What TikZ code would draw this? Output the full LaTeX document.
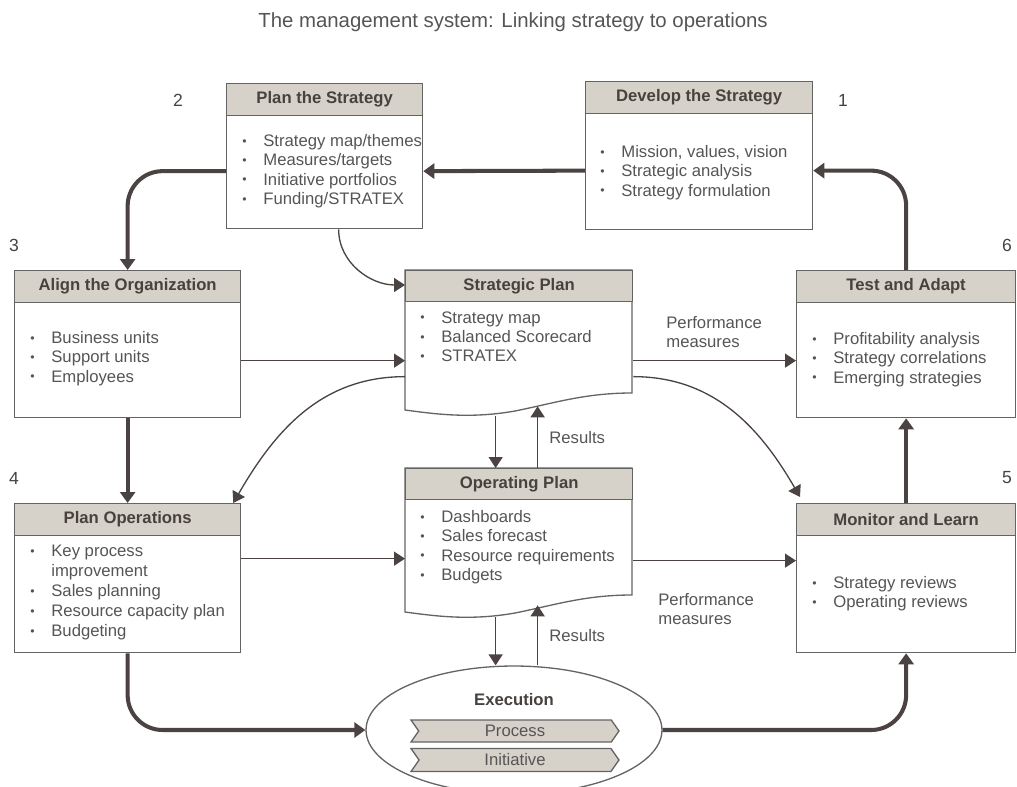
\documentclass[tikz,border=0pt]{standalone}
\usepackage{fontspec}
\setmainfont{Liberation Sans}
\usetikzlibrary{arrows.meta,shapes.geometric,shapes.symbols}
\definecolor{headfill}{RGB}{215,210,201}
\definecolor{framegray}{RGB}{100,100,100}
\definecolor{textgray}{RGB}{85,85,85}
\definecolor{headtext}{RGB}{72,66,62}
\definecolor{arrowdark}{RGB}{75,66,66}
\newcommand{\bul}{\makebox[0.42cm][l]{\raisebox{0.15ex}{\fontsize{7}{7}\selectfont\textbullet}}}

\begin{document}
\begin{tikzpicture}[x=0.02cm, y=-0.02cm,
  every node/.style={text=textgray, font=\fontsize{9.5}{11}\selectfont},
  stage/.style={draw=framegray, line width=0.75pt, fill=white, inner sep=0pt, anchor=north west},
  head/.style={draw=framegray, line width=0.75pt, fill=headfill, inner sep=0pt, anchor=north west,
    minimum height=0.64cm, text=headtext, font=\fontsize{9.5}{11}\selectfont\bfseries},
  items/.style={anchor=north west, align=left, inner sep=0pt},
  lbl/.style={align=left, inner sep=0pt},
  doc/.style={draw=framegray, line width=0.75pt, fill=white},
  chev/.style={signal, signal from=west, signal to=east, signal pointer angle=110, draw=framegray,
    fill=headfill, line width=0.75pt, minimum width=4.16cm, minimum height=0.44cm, inner sep=0pt},
  bigflow/.style={draw=arrowdark, line width=2.3pt, rounded corners=0.7cm,
    -{Triangle[length=0.22cm,width=0.3cm]}},
  flow/.style={draw=arrowdark, line width=0.75pt, -{Triangle[length=0.22cm,width=0.28cm]}}]
  \useasboundingbox (0,0) rectangle (1017,787);
  \clip (0,0) rectangle (1017,787);

  \node[font=\fontsize{11.6}{14}\selectfont] (title) at (513,22) {The management system: Linking strategy to operations};
  \foreach \n/\x/\y in {1/843/100, 2/178/100, 3/14/245, 4/14/478, 5/1007/478, 6/1007/245}
    \node[text=headtext, font=\fontsize{10}{12}\selectfont] (no\n) at (\x,\y) {\n};

  \node[stage, minimum width=3.92cm, minimum height=2.9cm] (ps) at (226,83) {};
  \node[head, minimum width=3.92cm] (psh) at (ps.north west) {Plan the Strategy};
  \node[items] (psi) at (242,134) {\bul Strategy map/themes\\\bul Measures/targets\\\bul Initiative portfolios\\\bul Funding/STRATEX};

  \node[stage, minimum width=4.54cm, minimum height=2.96cm] (dev) at (585,81) {};
  \node[head, minimum width=4.54cm] (devh) at (dev.north west) {Develop the Strategy};
  \node[items] (devi) at (600,145) {\bul Mission, values, vision\\\bul Strategic analysis\\\bul Strategy formulation};

  \node[stage, minimum width=4.52cm, minimum height=2.94cm] (al) at (14,270) {};
  \node[head, minimum width=4.52cm] (alh) at (al.north west) {Align the Organization};
  \node[items] (ali) at (30,331) {\bul Business units\\\bul Support units\\\bul Employees};

  \node[stage, minimum width=4.38cm, minimum height=2.94cm] (ta) at (796,270) {};
  \node[head, minimum width=4.38cm] (tah) at (ta.north west) {Test and Adapt};
  \node[items] (tai) at (812,332) {\bul Profitability analysis\\\bul Strategy correlations\\\bul Emerging strategies};

  \node[stage, minimum width=4.38cm, minimum height=2.98cm] (mo) at (796,503) {};
  \node[head, minimum width=4.38cm] (moh) at (mo.north west) {Monitor and Learn};
  \node[items] (moi) at (812,576) {\bul Strategy reviews\\\bul Operating reviews};

  \node[stage, minimum width=4.52cm, minimum height=2.98cm] (po) at (14,503) {};
  \node[head, minimum width=4.52cm] (poh) at (po.north west) {Plan Operations};
  \node[items, font=\fontsize{9.5}{11.4}\selectfont] (poi) at (30,545) {\bul Key process\\\hspace*{0.42cm}improvement\\\bul Sales planning\\\bul Resource capacity plan\\\bul Budgeting};

  \draw[doc] (405,270) -- (632,270) -- (632,393) .. controls (585,393) and (555,403) .. (515,411)
    .. controls (470,419) and (435,414) .. (405,410) -- cycle;
  \node[stage, draw=none, fill=none, minimum width=4.54cm, minimum height=2.84cm] (sp) at (405,270) {};
  \node[head, minimum width=4.54cm, minimum height=0.62cm] (sph) at (sp.north west) {Strategic Plan};
  \node[items] (spi) at (420,311) {\bul Strategy map\\\bul Balanced Scorecard\\\bul STRATEX};

  \draw[doc] (405,468) -- (632,468) -- (632,595) .. controls (585,595) and (555,605) .. (515,613)
    .. controls (470,621) and (435,616) .. (405,612) -- cycle;
  \node[stage, draw=none, fill=none, minimum width=4.54cm, minimum height=2.88cm] (op) at (405,468) {};
  \node[head, minimum width=4.54cm, minimum height=0.62cm] (oph) at (op.north west) {Operating Plan};
  \node[items] (opi) at (420,510) {\bul Dashboards\\\bul Sales forecast\\\bul Resource requirements\\\bul Budgets};

  \node[ellipse, draw=framegray, fill=white, line width=0.75pt, minimum width=5.92cm, minimum height=2.56cm, inner sep=0pt] (ex) at (514,730) {};
  \node[font=\fontsize{9.5}{11}\selectfont\bfseries, text=headtext] (exh) at (514,700) {Execution};
  \node[chev] (proc) at (515,731) {Process};
  \node[chev, minimum height=0.46cm] (init) at (515,760) {Initiative};

  \draw[bigflow] ([yshift=-0.3cm]dev.west) -- ([yshift=-0.3cm]ps.east);
  \draw[bigflow] (ta.north) |- ([yshift=-0.3cm]dev.east);
  \draw[bigflow] ([yshift=-0.3cm]ps.west) -| (al.north);
  \draw[bigflow] (al.south) -- (po.north);
  \draw[bigflow] (po.south) |- (ex.west);
  \draw[bigflow] (ex.east) -| (mo.south);
  \draw[bigflow] (mo.north) -- (ta.south);

  \coordinate (a1) at ([yshift=-0.33cm]al.east);
  \coordinate (s1) at ([yshift=-0.38cm]sp.east);
  \coordinate (p1) at ([yshift=0.39cm]po.east);
  \coordinate (o1) at ([yshift=-0.4cm]op.east);
  \coordinate (r1) at ([shift={(0.37cm,0.16cm)}]op.south);
  \coordinate (d1) at ([shift={(-0.47cm,-0.08cm)}]op.south);
  \draw[flow] ([xshift=0.28cm]ps.south) to[out=-90,in=180] ([yshift=-0.3cm]sp.north west);
  \draw[flow] (a1) -- (a1 -| sp.west);
  \draw[flow] (s1) -- (s1 -| ta.west);
  \draw[flow] ([yshift=-0.7cm]sp.west) to[out=180,in=60] ([xshift=-0.16cm]po.north east);
  \draw[flow] ([yshift=-0.7cm]sp.east) to[out=0,in=120] ([shift={(0.08cm,0.12cm)}]mo.north west);
  \draw[flow] ([shift={(-0.47cm,-0.06cm)}]sp.south) -- ([xshift=-0.47cm]op.north);
  \draw[flow] ([xshift=0.37cm]op.north) -- ([shift={(0.37cm,0.14cm)}]sp.south);
  \draw[flow] (p1) -- (p1 -| op.west);
  \draw[flow] (o1) -- (o1 -| mo.west);
  \draw[flow] (d1) -- (d1 |- ex.north);
  \draw[flow] (r1 |- ex.north) -- (r1);

  \node[lbl, anchor=north west] (pm1) at (666,316) {Performance\\measures};
  \node[lbl, anchor=west] (res1) at (549,438) {Results};
  \node[lbl, anchor=north west] (pm2) at (658,593) {Performance\\measures};
  \node[lbl, anchor=west] (res2) at (549,636) {Results};
\end{tikzpicture}
\end{document}
